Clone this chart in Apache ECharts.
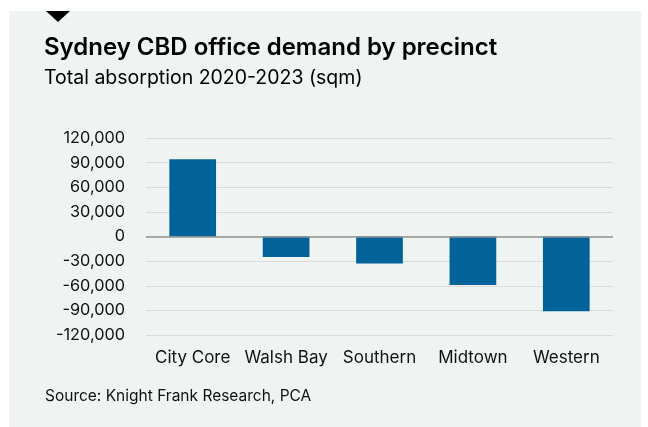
<!DOCTYPE html>
<html>
<head>
<meta charset="utf-8">
<script src="https://cdn.jsdelivr.net/npm/echarts@6/dist/echarts.min.js"></script>
<style>
  html, body { margin: 0; padding: 0; background: #ffffff; }
  #chart { width: 648px; height: 427px; }
</style>
</head>
<body>
<div id="chart"></div>
<script>
// Precincts and net absorption over 2020-2023 (sqm)
const precincts = ['City Core', 'Walsh Bay', 'Southern', 'Midtown', 'Western'];
const absorption = [94000, -25000, -33000, -59000, -91000];
const yTicks = [-120000, -90000, -60000, -30000, 0, 30000, 60000, 90000, 120000];

const FONT = 'Inter, Liberation Sans, Arial, sans-serif';
const chart = echarts.init(document.getElementById('chart'), null, { renderer: 'canvas' });

chart.setOption({
  backgroundColor: '#ffffff',
  animation: false,
  graphic: [
    { type: 'rect', z: -10, shape: { x: 9, y: 11, width: 632, height: 416 }, style: { fill: '#eff3f2' } },
    { type: 'polygon', shape: { points: [[46, 11], [70, 11], [58, 22]] }, style: { fill: '#000000' } },
    { type: 'text', left: 44, top: 36, style: { text: 'Sydney CBD office demand by precinct', font: '600 24px ' + FONT, fill: '#000000' } },
    { type: 'text', left: 44, top: 68, style: { text: 'Total absorption 2020-2023 (sqm)', font: '19.5px ' + FONT, fill: '#000000' } },
    { type: 'text', left: 45, top: 388, style: { text: 'Source: Knight Frank Research, PCA', font: '15.5px ' + FONT, fill: '#111111' } }
  ],
  grid: { left: 146, right: 35, top: 138, bottom: 92, containLabel: false },
  xAxis: {
    type: 'category',
    data: precincts,
    axisLine: { show: false },
    axisTick: { show: false },
    axisLabel: { interval: 0, color: '#111111', fontSize: 17, fontFamily: FONT, margin: 14 }
  },
  yAxis: {
    type: 'value',
    min: yTicks[0],
    max: yTicks[yTicks.length - 1],
    interval: 30000,
    axisLine: { show: false },
    axisTick: { show: false },
    splitLine: { lineStyle: { color: '#d9dcdb', width: 1 } },
    axisLabel: {
      color: '#111111', fontSize: 16.3, fontFamily: FONT, margin: 21,
      formatter: v => v.toLocaleString('en-US')
    }
  },
  series: [{
    type: 'bar',
    data: absorption,
    barWidth: '50%',
    itemStyle: { color: '#02639a' },
    markLine: {
      silent: true, symbol: 'none', label: { show: false },
      lineStyle: { color: '#8f9392', width: 1.5, type: 'solid' },
      data: [{ yAxis: 0 }]
    }
  }]
});
</script>
</body>
</html>
